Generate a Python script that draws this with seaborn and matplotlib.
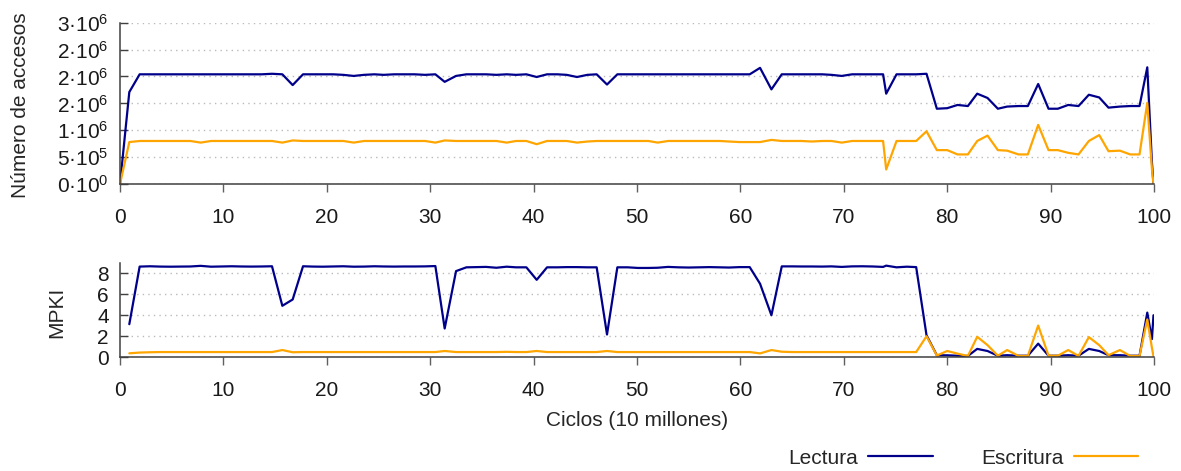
import numpy as np
import pandas as pd
import seaborn as sns
import matplotlib.pyplot as plt

## datos ----
# ciclos en unidades de 10 millones
ciclos = [0, 0.9, 1.9, 2.9, 3.9, 4.9, 5.8, 6.8, 7.8, 8.8, 9.8, 10.8, 11.7, 12.7, 13.7,
          14.7, 15.7, 16.7, 17.7, 18.7, 19.6, 20.6, 21.6, 22.6, 23.6, 24.6, 25.5, 26.5,
          27.5, 28.5, 29.5, 30.5, 31.4, 32.5, 33.5, 34.5, 35.4, 36.4, 37.4, 38.3, 39.3,
          40.3, 41.3, 42.3, 43.2, 44.2, 45.2, 46.1, 47.1, 48.1, 49.1, 50.1, 51.1, 52.0,
          53.0, 54.0, 55.0, 56.0, 57.0, 58.0, 58.9, 59.9, 60.9, 61.9, 63.0, 64.0, 65.0,
          65.9, 66.9, 67.9, 68.8, 69.8, 70.8, 71.8, 72.8, 73.8, 74.1, 75.1, 76.1, 77.0,
          78.0, 79.0, 80.0, 81.0, 82.0, 82.9, 83.9, 84.9, 85.8, 86.9, 87.8, 88.8, 89.8,
          90.7, 91.7, 92.7, 93.7, 94.7, 95.6, 96.7, 97.7, 98.6, 99.35, 99.8, 99.95]

# numero de accesos (millones)
acc_lectura = [0, 1.71, 2.04, 2.04, 2.04, 2.04, 2.04, 2.04, 2.04, 2.04, 2.04, 2.04, 2.04,
               2.04, 2.04, 2.05, 2.04, 1.84, 2.04, 2.04, 2.04, 2.04, 2.03, 2.01, 2.03, 2.04,
               2.03, 2.04, 2.04, 2.04, 2.03, 2.04, 1.90, 2.01, 2.04, 2.04, 2.04, 2.03, 2.04,
               2.03, 2.04, 1.99, 2.04, 2.04, 2.03, 1.99, 2.03, 2.04, 1.85, 2.04, 2.04, 2.04,
               2.04, 2.04, 2.04, 2.04, 2.04, 2.04, 2.04, 2.04, 2.04, 2.04, 2.04, 2.16, 1.76,
               2.04, 2.04, 2.04, 2.04, 2.04, 2.03, 2.01, 2.04, 2.04, 2.04, 2.04, 1.68, 2.04,
               2.04, 2.04, 2.05, 1.40, 1.41, 1.47, 1.45, 1.68, 1.60, 1.40, 1.44, 1.45, 1.45,
               1.86, 1.40, 1.40, 1.47, 1.45, 1.66, 1.61, 1.42, 1.44, 1.45, 1.45, 2.17, 0.40, 0]
acc_escritura = [0, 0.78, 0.80, 0.80, 0.80, 0.80, 0.80, 0.80, 0.77, 0.80, 0.80, 0.80, 0.80,
                 0.80, 0.80, 0.80, 0.77, 0.81, 0.80, 0.80, 0.80, 0.80, 0.80, 0.77, 0.80, 0.80,
                 0.80, 0.80, 0.80, 0.80, 0.80, 0.77, 0.81, 0.80, 0.80, 0.80, 0.80, 0.80, 0.77,
                 0.80, 0.80, 0.74, 0.80, 0.80, 0.80, 0.77, 0.79, 0.80, 0.80, 0.80, 0.80, 0.80,
                 0.80, 0.77, 0.80, 0.80, 0.80, 0.80, 0.80, 0.80, 0.79, 0.78, 0.78, 0.78, 0.82,
                 0.80, 0.80, 0.80, 0.79, 0.80, 0.80, 0.77, 0.80, 0.80, 0.80, 0.80, 0.27, 0.80,
                 0.80, 0.80, 0.98, 0.63, 0.63, 0.55, 0.55, 0.80, 0.90, 0.63, 0.62, 0.55, 0.55,
                 1.10, 0.63, 0.63, 0.58, 0.55, 0.80, 0.91, 0.61, 0.62, 0.55, 0.55, 1.51, 0.28, 0]

# MPKI (sin muestra en ciclo 0)
mpki_lectura = [3.15, 8.63, 8.66, 8.63, 8.62, 8.63, 8.64, 8.70, 8.62, 8.64, 8.66, 8.64,
                8.63, 8.64, 8.66, 4.90, 5.50, 8.66, 8.63, 8.62, 8.64, 8.66, 8.62, 8.63, 8.66,
                8.64, 8.63, 8.64, 8.64, 8.65, 8.68, 2.74, 8.20, 8.56, 8.58, 8.60, 8.52, 8.62,
                8.56, 8.56, 7.37, 8.56, 8.56, 8.58, 8.58, 8.56, 8.56, 2.17, 8.56, 8.56, 8.50,
                8.50, 8.52, 8.60, 8.56, 8.54, 8.56, 8.58, 8.56, 8.54, 8.58, 8.58, 7.00, 4.00,
                8.65, 8.65, 8.64, 8.64, 8.63, 8.65, 8.60, 8.65, 8.66, 8.64, 8.60, 8.72, 8.56,
                8.62, 8.58, 2.10, 0.19, 0.19, 0.15, 0.13, 0.80, 0.60, 0.15, 0.20, 0.15, 0.15,
                1.30, 0.15, 0.15, 0.20, 0.15, 0.80, 0.60, 0.20, 0.20, 0.15, 0.15, 4.25, 1.73, 4.00]
mpki_escritura = [0.38, 0.45, 0.48, 0.50, 0.50, 0.50, 0.50, 0.50, 0.50, 0.50, 0.50, 0.50,
                  0.50, 0.50, 0.50, 0.69, 0.48, 0.50, 0.50, 0.50, 0.50, 0.50, 0.50, 0.50, 0.50,
                  0.50, 0.50, 0.50, 0.50, 0.50, 0.50, 0.60, 0.50, 0.50, 0.50, 0.50, 0.50, 0.52,
                  0.50, 0.50, 0.60, 0.50, 0.50, 0.50, 0.50, 0.50, 0.50, 0.60, 0.50, 0.50, 0.50,
                  0.50, 0.50, 0.50, 0.50, 0.50, 0.50, 0.50, 0.50, 0.50, 0.50, 0.50, 0.37, 0.69,
                  0.53, 0.50, 0.50, 0.50, 0.50, 0.50, 0.50, 0.50, 0.50, 0.50, 0.50, 0.50, 0.50,
                  0.50, 0.50, 2.00, 0.17, 0.60, 0.35, 0.12, 1.95, 1.16, 0.15, 0.69, 0.13, 0.13,
                  3.02, 0.15, 0.15, 0.69, 0.13, 1.92, 1.16, 0.20, 0.69, 0.13, 0.13, 3.60, 0.90, 0.10]

series = ["Lectura", "Escritura"]
colores = {"Lectura": "#00008b", "Escritura": "#ffa500"}

xticks = [0, 10, 20, 30, 40, 50, 60, 70, 80, 90, 100]
yticks_acc = [0, 0.5e6, 1e6, 1.5e6, 2e6, 2.5e6, 3e6]
ylabels_acc = ["0·10$^{0}$", "5·10$^{5}$", "1·10$^{6}$", "2·10$^{6}$",
               "2·10$^{6}$", "2·10$^{6}$", "3·10$^{6}$"]
yticks_mpki = [0, 2, 4, 6, 8]

## tablas largas ----
df_acc = pd.DataFrame({
    "ciclos": ciclos * 2,
    "valor": [v * 1e6 for v in acc_lectura] + [v * 1e6 for v in acc_escritura],
    "serie": ["Lectura"] * len(ciclos) + ["Escritura"] * len(ciclos),
})
df_mpki = pd.DataFrame({
    "ciclos": ciclos[1:] * 2,
    "valor": mpki_lectura + mpki_escritura,
    "serie": ["Lectura"] * len(mpki_lectura) + ["Escritura"] * len(mpki_escritura),
})

## estilo ----
sns.set_theme(style="ticks")
plt.rcParams["font.family"] = ["Liberation Sans", "DejaVu Sans"]
plt.rcParams["mathtext.fontset"] = "custom"
plt.rcParams["mathtext.rm"] = "Liberation Sans"
plt.rcParams["mathtext.it"] = "Liberation Sans:italic"
fs = 15

fig = plt.figure(figsize=(11.81, 4.71), dpi=100)
ax1 = fig.add_axes([120 / 1181, 1 - 184 / 471, 1034 / 1181, 161.3 / 471])
ax2 = fig.add_axes([120 / 1181, 1 - 357.3 / 471, 1034 / 1181, 94.6 / 471])

for ax, df in [(ax1, df_acc), (ax2, df_mpki)]:
    sns.lineplot(data=df, x="ciclos", y="valor", hue="serie", hue_order=series,
                 palette=colores, linewidth=1.6, ax=ax, legend=False,
                 estimator=None, sort=False)
    ax.set_xlim(0, 100)
    ax.set_xticks(xticks)
    ax.set_xticklabels([str(t) for t in xticks], fontsize=fs)
    ax.set_xlabel("")
    sns.despine(ax=ax)
    for s in ["left", "bottom"]:
        ax.spines[s].set_color("#404040")
        ax.spines[s].set_linewidth(1.1)
    ax.tick_params(axis="x", direction="out", length=6, width=1, color="#606060",
                   pad=11, labelcolor="#1a1a1a")
    ax.tick_params(axis="y", direction="in", length=6, width=1, color="#404040",
                   pad=8, labelcolor="#1a1a1a", labelsize=fs)
    ax.yaxis.grid(True, linestyle=(0, (1, 3)), color="#bbbbbb", linewidth=1)
    ax.set_axisbelow(True)

ax1.set_ylim(0, 3e6)
ax1.set_yticks(yticks_acc)
ax1.set_yticklabels(ylabels_acc)
ax1.set_ylabel("Número de accesos", fontsize=fs)
ax1.yaxis.set_label_coords(-0.087, 0.49)

ax2.set_ylim(0, 9)
ax2.set_yticks(yticks_mpki)
ax2.set_ylabel("MPKI", fontsize=fs)
ax2.yaxis.set_label_coords(-0.052, 0.47)
ax2.set_xlabel("Ciclos (10 millones)", fontsize=fs, labelpad=8)

fig.legend(handles=ax2.lines[:2], labels=series, loc="center right",
           bbox_to_anchor=(1157 / 1181, 1 - 458 / 471), ncol=2, frameon=False,
           markerfirst=False, handlelength=3.1, columnspacing=2.3, handletextpad=0.5,
           fontsize=fs)

fig.savefig("out.png", dpi=100)
